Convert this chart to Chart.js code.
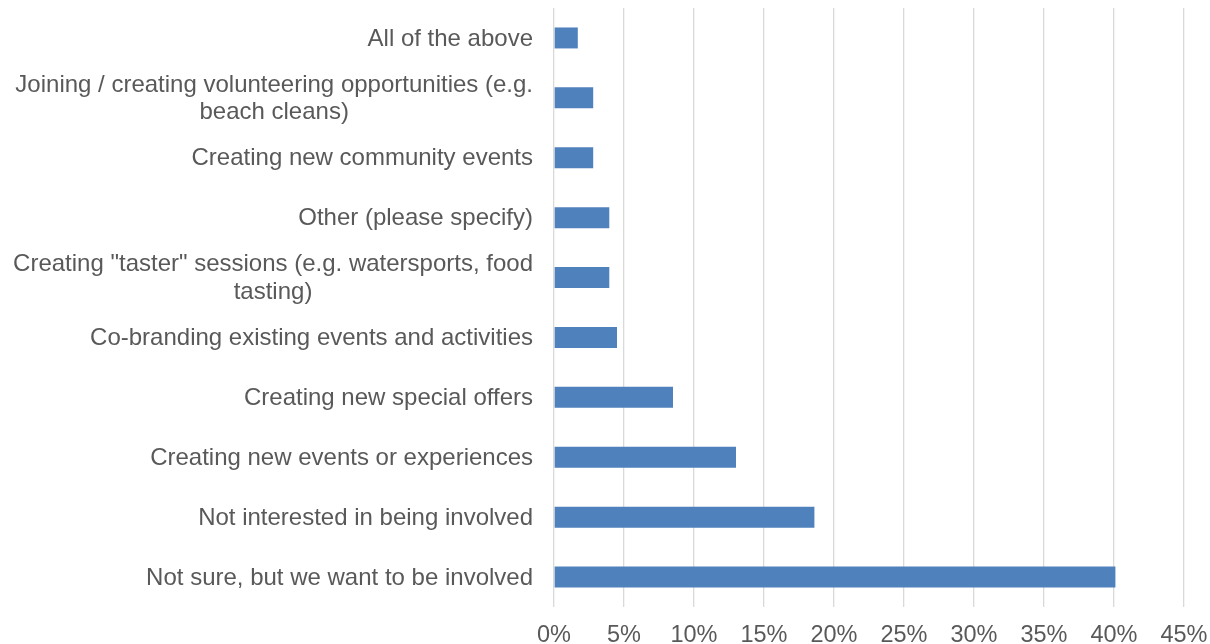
<!DOCTYPE html>
<html>
<head>
<meta charset="utf-8">
<title>Involvement options</title>
<script src="https://cdn.jsdelivr.net/npm/chart.js@4/dist/chart.umd.min.js"></script>
<style>
  html, body { margin: 0; padding: 0; background: #fff; }
  #wrap { width: 1210px; height: 644px; position: relative; }
</style>
</head>
<body>
<div id="wrap"><canvas id="myChart"></canvas></div>
<script>
const categories = [
  'All of the above',
  ['Joining / creating volunteering opportunities (e.g.', 'beach cleans)'],
  'Creating new community events',
  'Other (please specify)',
  ['Creating "taster" sessions (e.g. watersports, food', 'tasting)'],
  'Co-branding existing events and activities',
  'Creating new special offers',
  'Creating new events or experiences',
  'Not interested in being involved',
  'Not sure, but we want to be involved'
];
const shares = [1.7, 2.8, 2.8, 3.95, 3.95, 4.5, 8.5, 13.0, 18.6, 40.1];
const axisMax = 45;
const axisStep = 5;

const textColor = '#595959';
const labelFont = '24px "Liberation Sans", Arial, sans-serif';
const labelLineHeight = 27.5;
const labelGap = 21;

// category labels: multi-line ones are centred on their widest line,
// all right-aligned against the axis
const categoryLabels = {
  id: 'categoryLabels',
  afterDraw(chart) {
    const scale = chart.scales.y;
    const c = chart.ctx;
    const right = chart.chartArea.left - labelGap;
    c.save();
    c.font = labelFont;
    c.fillStyle = textColor;
    c.textAlign = 'center';
    c.textBaseline = 'middle';
    categories.forEach((label, i) => {
      const lines = Array.isArray(label) ? label : [label];
      const maxW = Math.max(...lines.map(l => c.measureText(l).width));
      const cx = right - maxW / 2;
      const y = scale.getPixelForTick(i) + 1;
      lines.forEach((line, j) => {
        c.fillText(line, cx, y + (j - (lines.length - 1) / 2) * labelLineHeight);
      });
    });
    c.restore();
  }
};

const ctx = document.getElementById('myChart');

new Chart(ctx, {
  type: 'bar',
  data: {
    labels: categories,
    datasets: [{
      data: shares,
      backgroundColor: '#4F81BD',
      borderWidth: 0,
      barPercentage: 0.35,
      categoryPercentage: 1
    }]
  },
  options: {
    indexAxis: 'y',
    responsive: true,
    maintainAspectRatio: false,
    animation: false,
    layout: { padding: { top: 8, right: 26, bottom: 0, left: 0 } },
    plugins: {
      legend: { display: false },
      tooltip: {
        callbacks: {
          label: item => item.parsed.x + '%'
        }
      }
    },
    scales: {
      x: {
        min: 0,
        max: axisMax,
        ticks: {
          stepSize: axisStep,
          color: textColor,
          padding: 14,
          font: { family: '"Liberation Sans", Arial, sans-serif', size: 23.5 },
          callback: v => v + '%'
        },
        grid: { color: '#d9d9d9', lineWidth: 1.3, drawTicks: false },
        border: { display: false },
        afterFit: scale => {
          scale.height = 37;
          scale.paddingLeft = 0;
          scale.paddingRight = 0;
        }
      },
      y: {
        ticks: { display: false },
        grid: { display: false },
        border: { display: false },
        afterFit: scale => { scale.width = 554; }
      }
    }
  },
  plugins: [categoryLabels]
});
</script>
</body>
</html>
